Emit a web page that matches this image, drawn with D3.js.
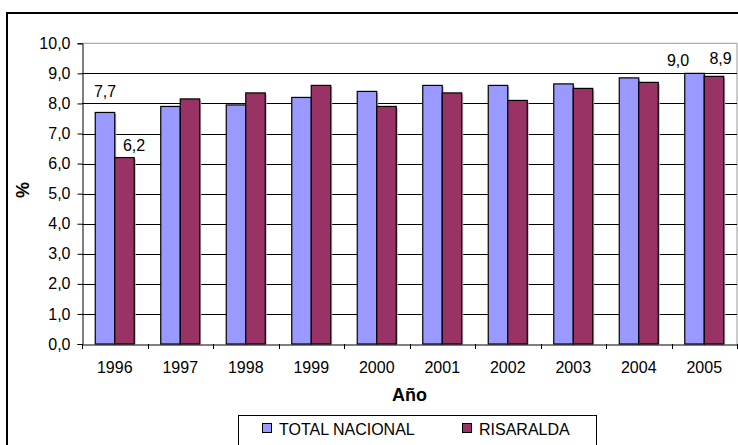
<!DOCTYPE html>
<html><head><meta charset="utf-8">
<script src="https://cdn.jsdelivr.net/npm/d3@7"></script>
<style>body{margin:0;background:#fff}svg{display:block;font-family:"Liberation Sans",Arial,sans-serif}</style>
</head><body><svg id="c" width="738" height="445"></svg>
<script>
const years = ["1996","1997","1998","1999","2000","2001","2002","2003","2004","2005"];
const seriesNames = ["TOTAL NACIONAL","RISARALDA"];
const totalNacional = [7.7,7.9,7.95,8.2,8.4,8.6,8.6,8.65,8.85,9.0];
const risaralda = [6.2,8.15,8.35,8.6,7.9,8.35,8.1,8.5,8.7,8.9];
const yTicks = [0,1,2,3,4,5,6,7,8,9,10];
const labelledYears = ["1996","2005"];
const colors = ["#9999FF","#993366"];
// manual label nudges (layout only): [year][series] -> [dx, dy]
const labelNudge = {"1996":[[0,-15],[9.5,-6.5]],"2005":[[-16.5,-7.5],[6.5,-12]]};

const FONT = "Liberation Sans, Arial, sans-serif";
const svg = d3.select("#c");
const L=82,R=737,T=43.3,B=344;
const fmt = v => d3.format(".1f")(v).replace(".",",");

// outer frame
svg.append("rect").attr("x",7).attr("y",13).attr("width",760).attr("height",460)
  .attr("fill","#fff").attr("stroke","#000").attr("stroke-width",2);

const x = d3.scaleBand().domain(years).range([L,R]);
const y = d3.scaleLinear().domain([0,10]).range([B,T]);
const x1 = d3.scaleBand().domain(seriesNames).range([0,39]);

// plot area border (gray top/right)
svg.append("path").attr("d",`M${L},${T}H${R}V${B}`).attr("fill","none").attr("stroke","#999").attr("stroke-width",1);

// gridlines
svg.append("g").selectAll("line").data(yTicks.filter(d=>d>0&&d<10)).join("line")
  .attr("x1",L).attr("x2",R).attr("y1",d=>Math.round(y(d))+0.5).attr("y2",d=>Math.round(y(d))+0.5)
  .attr("stroke","#000").attr("stroke-width",1);

// y axis
const ya = svg.append("g").attr("transform",`translate(${L+0.5},0)`)
  .call(d3.axisLeft(y).tickValues(yTicks).tickFormat(fmt).tickSize(5).tickPadding(7));
ya.select(".domain").attr("stroke","#000");
ya.selectAll("text").attr("font-size",16).attr("fill","#000").attr("font-family",FONT);

// bars
const data = years.map((yr,i)=>({yr,vals:[totalNacional[i],risaralda[i]]}));
const groups = svg.append("g").selectAll("g").data(data).join("g")
  .attr("transform",d=>`translate(${x(d.yr)+x.bandwidth()/2-19.5},0)`);
groups.selectAll("rect.sh").data(d=>d.vals.map((v,j)=>({v,j}))).join("rect")
  .attr("x",d=>x1(seriesNames[d.j])+1.5).attr("y",d=>y(d.v)+1.5)
  .attr("width",x1.bandwidth()).attr("height",d=>B-y(d.v)-1.5).attr("fill","#bbb");
groups.selectAll("rect.b").data(d=>d.vals.map((v,j)=>({v,j}))).join("rect")
  .attr("x",d=>x1(seriesNames[d.j])).attr("y",d=>y(d.v))
  .attr("width",x1.bandwidth()).attr("height",d=>B-y(d.v))
  .attr("fill",d=>colors[d.j]).attr("stroke","#000").attr("stroke-width",1.2);

// data labels
groups.filter(d=>labelledYears.includes(d.yr)).selectAll("text").data(d=>d.vals.map((v,j)=>({v,j,yr:d.yr}))).join("text")
  .attr("x",d=>x1(seriesNames[d.j])+x1.bandwidth()/2+labelNudge[d.yr][d.j][0])
  .attr("y",d=>y(d.v)+labelNudge[d.yr][d.j][1])
  .attr("text-anchor","middle").attr("font-size",16).attr("fill","#000").text(d=>fmt(d.v));

// x axis
const xa = svg.append("g").attr("transform",`translate(0,${B+0.5})`)
  .call(d3.axisBottom(x).tickSize(0).tickPadding(16));
xa.select(".domain").attr("stroke","#000");
xa.selectAll("text").attr("font-size",16).attr("fill","#000").attr("font-family",FONT).attr("dy","0.75em").attr("y",16);
svg.append("g").selectAll("line").data(d3.range(years.length+1)).join("line")
  .attr("x1",i=>Math.round(L+i*x.step())+0.5).attr("x2",i=>Math.round(L+i*x.step())+0.5)
  .attr("y1",B).attr("y2",B+5).attr("stroke","#000");

// axis titles
svg.append("text").attr("x",(L+R)/2).attr("y",401).attr("text-anchor","middle")
  .attr("font-size",18).attr("font-weight","bold").text("Año");
svg.append("text").attr("transform","translate(29,190) rotate(-90)").attr("text-anchor","middle")
  .attr("font-size",18).attr("font-weight","bold").text("%");

// legend
const lg = svg.append("g");
lg.append("rect").attr("x",238.5).attr("y",415.5).attr("width",358).attr("height",40)
  .attr("fill","#fff").attr("stroke","#000");
const lx=[262,462];
seriesNames.forEach((s,i)=>{
  lg.append("rect").attr("x",lx[i]+0.5).attr("y",423.5).attr("width",9).attr("height",9)
    .attr("fill",colors[i]).attr("stroke","#000");
  lg.append("text").attr("x",lx[i]+17).attr("y",435).attr("font-size",16).text(s);
});
</script></body></html>
